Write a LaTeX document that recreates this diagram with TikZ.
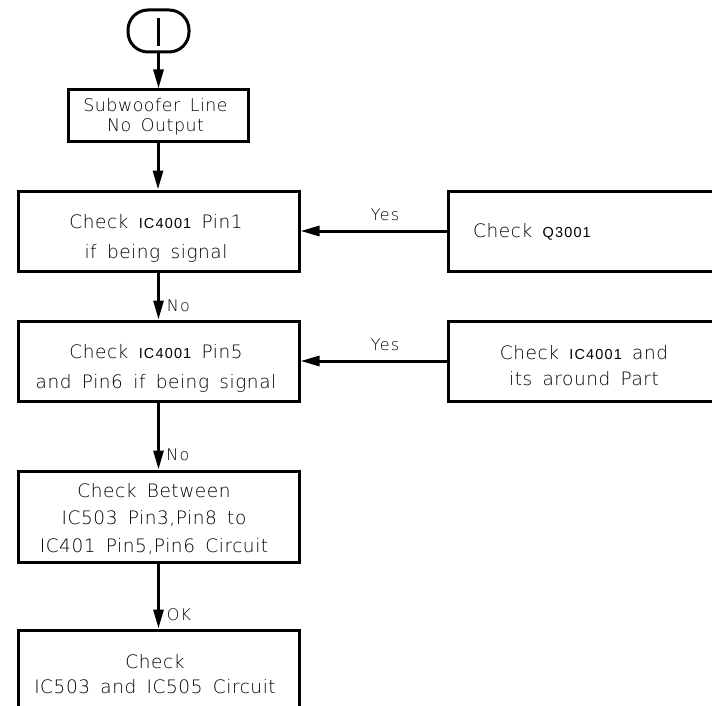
\documentclass[tikz,border=0pt]{standalone}
\usepackage{fontspec}
\newfontfamily\cad{DejaVu Sans ExtraLight}[LetterSpace=3,WordSpace=1.6]
\newfontfamily\cadw{DejaVu Sans ExtraLight}[LetterSpace=8]
\newfontfamily\icf{Liberation Sans}[LetterSpace=8]
\usetikzlibrary{arrows.meta}
\newcommand{\ic}[1]{{\icf\fontsize{14.5}{14.5}\selectfont #1}}
\tikzset{
  frame/.style={draw, line width=3pt, inner sep=0pt},
  txt/.style={font=\cad\fontsize{18.5}{30}\selectfont, align=center, inner sep=0pt},
  lab/.style={font=\cadw\fontsize{16}{16}\selectfont, inner sep=0pt},
  flow/.style={line width=3pt, -{Triangle[length=19pt,width=10pt]}},
}
\begin{document}
\begin{tikzpicture}[x=1pt,y=-1pt]
\clip (0,0) rectangle (712,706);
\fill[white] (0,0) rectangle (712,706);
% terminator
\node[frame, rounded corners=20pt, minimum width=61pt, minimum height=42pt] (term) at (158.5,31) {};
\draw[line width=3pt] ([yshift=13pt]term.center) -- ([yshift=-15pt]term.center);
% main boxes
\node[frame, minimum width=180pt, minimum height=52pt] (b1) at (158,116) {};
\node[frame, minimum width=281pt, minimum height=80pt] (b2) at (158.5,231) {};
\node[frame, minimum width=282pt, minimum height=80pt] (ra) at (589,231) {};
\node[frame, minimum width=281pt, minimum height=80pt] (b3) at (158.5,361) {};
\node[frame, minimum width=282pt, minimum height=80pt] (rb) at (589,361) {};
\node[frame, minimum width=281pt, minimum height=91pt] (b4) at (158.5,516.5) {};
\node[frame, minimum width=281pt, minimum height=90pt] (b5) at (158.5,675) {};
% texts
\node[txt, font=\cad\fontsize{17.4}{20}\selectfont] (t1) at (155.5,117) {Subwoofer Line\\No Output};
\node[txt] (t2) at (156,238) {Check \ic{IC4001} Pin1\\if being signal};
\node[txt, anchor=west] (ta) at (473,232) {Check \ic{Q3001}};
\node[txt] (t3) at (156,368) {Check \ic{IC4001} Pin5\\and Pin6 if being signal};
\node[txt, font=\cad\fontsize{18.5}{26}\selectfont] (tb) at (584,366) {Check \ic{IC4001} and\\its around Part};
\node[txt, font=\cad\fontsize{18.5}{27.5}\selectfont] (t4) at (154,519) {Check Between\\IC503 Pin3,Pin8 to\\IC401 Pin5,Pin6 Circuit};
\node[txt, font=\cad\fontsize{18.5}{25}\selectfont] (t5) at (155,674.5) {Check\\IC503 and IC505 Circuit};
% connectors
\draw[flow] (term.south) -- (term.south |- b1.north);
\draw[flow] (b1.south) -- (b1.south |- b2.north);
\draw[flow] (b2.south) -- (b3.north);
\draw[flow] (b3.south) -- (b4.north);
\draw[flow] (b4.south) -- (b5.north);
\draw[flow] (ra.west) -- (b2.east);
\draw[flow] (rb.west) -- (b3.east);
% labels
\node[lab] (y1) at (385,215) {Yes};
\node[lab] (y2) at (385,345) {Yes};
\node[lab] (n1) at (178.5,306) {No};
\node[lab] (n2) at (178,455) {No};
\node[lab] (ok) at (179,615) {OK};
\end{tikzpicture}
\end{document}
